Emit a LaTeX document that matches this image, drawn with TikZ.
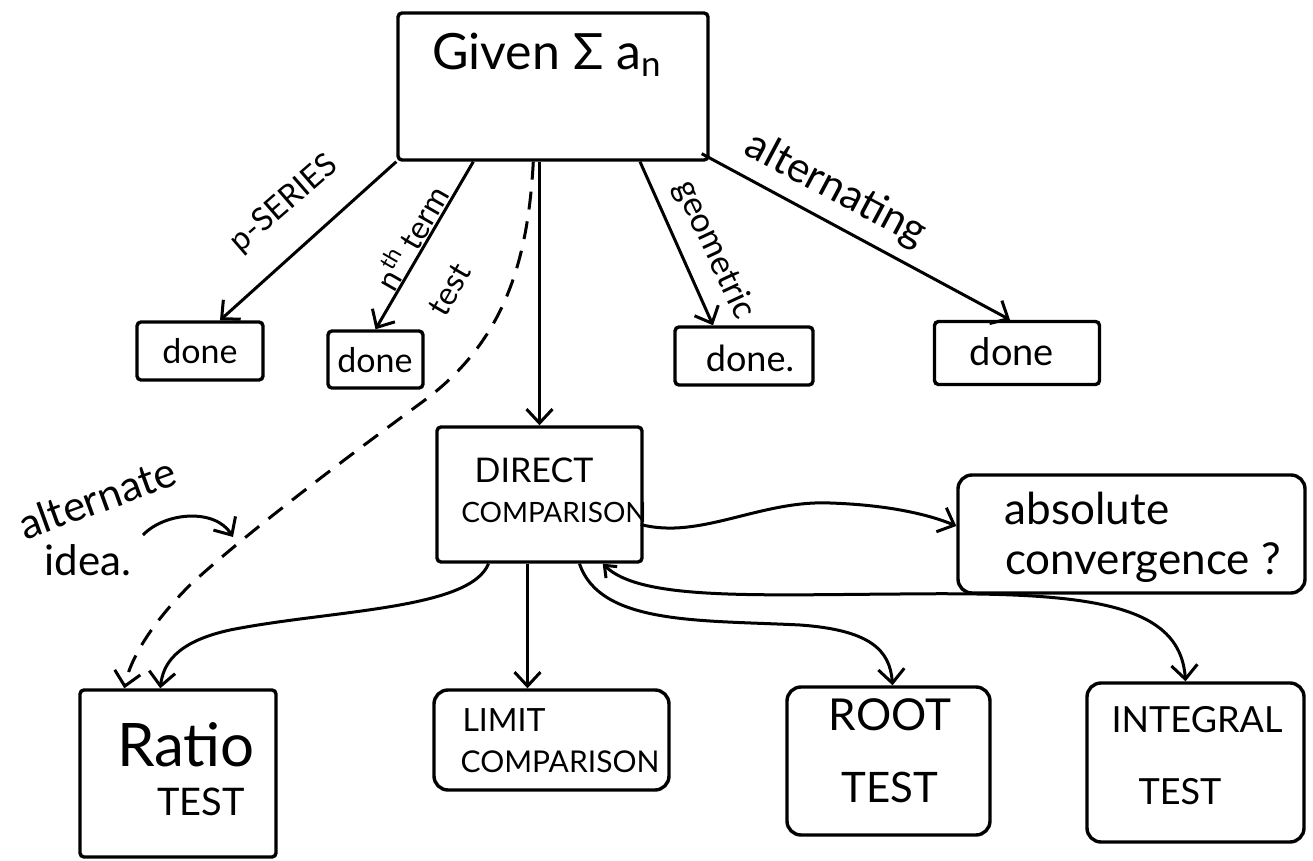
\documentclass[tikz,border=0pt]{standalone}
\usepackage{fontspec}
\setmainfont{Lato}
\usetikzlibrary{arrows.meta,calc}
\newcommand\myfs[1]{\fontsize{#1}{#1}\selectfont}
\begin{document}
\begin{tikzpicture}[x=0.5pt,y=-0.5pt,
  box/.style={draw,line width=1.7pt,inner sep=0pt,rounded corners=2pt},
  rbox/.style={box,rounded corners=7pt},
  lbl/.style={inner sep=0pt},
  arr/.style={-{Straight Barb[length=7pt,width=13pt]},line width=1.5pt},
  darr/.style={{Straight Barb[length=5pt,width=8pt]}-{Straight Barb[length=7pt,width=13pt]},line width=1.5pt},
  dasharr/.style={arr,dash pattern=on 9pt off 6pt}]
\useasboundingbox (0,0) rectangle (1313,861);
% boxes
\node[box,minimum width=155pt,minimum height=73.5pt] (given) at (553,86.5) {};
\node[box,minimum width=63pt,minimum height=29pt] (done1) at (200,351) {};
\node[box,minimum width=47.5pt,minimum height=28.5pt] (done2) at (375.5,359.5) {};
\node[box,minimum width=69pt,minimum height=29pt] (done3) at (744,356) {};
\node[box,minimum width=82.5pt,minimum height=31.5pt] (done4) at (1017,353) {};
\node[box,minimum width=102.5pt,minimum height=67.5pt] (dc) at (539.5,494.5) {};
\node[rbox,minimum width=173.5pt,minimum height=59pt] (abs) at (1131.5,534) {};
\node[box,minimum width=98pt,minimum height=83.5pt] (ratio) at (178,773.5) {};
\node[rbox,minimum width=117.5pt,minimum height=50pt] (limit) at (551.5,740) {};
\node[rbox,minimum width=101.5pt,minimum height=74pt] (root) at (888.5,761) {};
\node[rbox,minimum width=108.5pt,minimum height=79.5pt] (integral) at (1195.5,762.5) {};
% texts
\node[lbl] (giventxt) at (547,55) {\myfs{25}Given Σ a\textsubscript{n}};
\node[lbl] (d1t) at (200,351) {\myfs{17}done};
\node[lbl] (d2t) at (375,360) {\myfs{17}done};
\node[lbl] (d3t) at (750,358) {\myfs{18}done.};
\node[lbl] (d4t) at (1012,352) {\myfs{19}done};
\node[lbl] (dct1) at (534,470) {\myfs{17}DIRECT};
\node[lbl] (dct2) at (554,512) {\myfs{14}COMPARISON};
\node[lbl] (abst1) at (1087,508) {\myfs{22}absolute};
\node[lbl] (abst2) at (1143,563) {\myfs{22}convergence ?};
\node[lbl] (rt1) at (186,745) {\myfs{30}Ratio};
\node[lbl] (rt2) at (201,802) {\myfs{19}TEST};
\node[lbl] (lt1) at (504,720) {\myfs{16}LIMIT};
\node[lbl] (lt2) at (560,762) {\myfs{15}COMPARISON};
\node[lbl] (ot1) at (890,715) {\myfs{22}ROOT};
\node[lbl] (ot2) at (890,787) {\myfs{21}TEST};
\node[lbl] (it1) at (1197,720) {\myfs{18}INTEGRAL};
\node[lbl] (it2) at (1180,792) {\myfs{18}TEST};
% edge labels
\node[lbl,rotate=41] (lp) at (284,204) {\myfs{16}p-SERIES};
\node[lbl,rotate=60] (ln) at (410,237) {\myfs{16}n\textsuperscript{th} term};
\node[lbl,rotate=60] (lt) at (450,290) {\myfs{16}test};
\node[lbl,rotate=-65] (lg) at (714,250) {\myfs{17}geometric};
\node[lbl,rotate=-28] (la) at (836,190) {\myfs{21}alternating};
\node[lbl,rotate=20] (alt1) at (97,498) {\myfs{21}alternate};
\node[lbl] (alt2) at (88,560) {\myfs{21}idea.};
\coordinate (aiS) at (143,535);
\coordinate (aiE) at (233,537);
% connectors
\draw[arr] (given.south west) -- ($(done1.north)+(20,0)$);
\draw[arr] ($(given.south west)+(77,0)$) -- (done2.north);
\draw[dasharr] ($(given.south west)+(137,0)$) .. controls (528,260) and (505,340) .. (425,400)
  .. controls (350,455) and (250,530) .. (190,585)
  .. controls (150,625) and (130,660) .. ($(ratio.north west)+(46,0)$);
\draw[arr] (given.south -| dc.north) -- (dc.north);
\draw[arr] ($(given.south)+(87,0)$) -- ($(done3.north)+(-31,0)$);
\draw[arr] ($(given.south east)+(-8,-8)$) -- ($(done4.north)+(-7,0)$);
\draw[arr] ($(dc.east)+(-3,30)$) .. controls (700,540) and (760,500) .. (830,503)
  .. controls (890,505) and (930,515) .. ($(abs.west)+(0,-8)$);
\draw[arr] ($(dc.south)+(-51,0)$) .. controls (470,610) and (330,610) .. (230,630)
  .. controls (175,642) and (163,665) .. ($(ratio.north west)+(82,0)$);
\draw[arr] ($(dc.south)+(-12,0)$) -- ($(limit.north)+(-24,0)$);
\draw[arr] ($(dc.south)+(40,0)$) .. controls (600,625) and (700,620) .. (800,625)
  .. controls (870,630) and (890,650) .. ($(root.north)+(4,0)$);
\draw[darr] ($(dc.south east)+(-41,0)$) .. controls (640,600) and (750,595) .. (900,594)
  .. controls (1080,592) and (1180,600) .. ($(integral.north)+(-10,0)$);
\draw[arr] (aiS) .. controls (165,512) and (215,508) .. (aiE);
\end{tikzpicture}
\end{document}
